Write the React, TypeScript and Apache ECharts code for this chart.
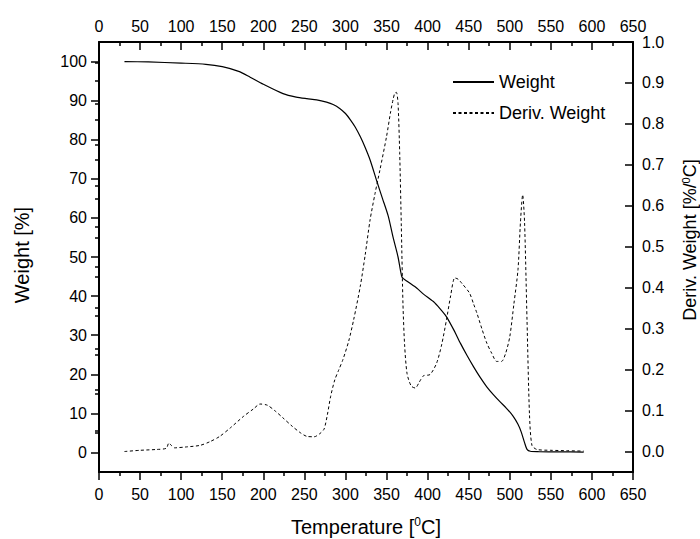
import React, { useEffect, useRef } from "react";
import * as echarts from "echarts";

// Weight curve (TGA)
const weightTemp = [31, 60, 100, 130, 150, 170, 184, 200, 224, 240, 253, 265, 277, 285, 293, 300, 306, 312, 318, 324, 330, 338, 345, 352, 358, 364, 367, 369, 375, 387, 395, 407, 415, 423, 432, 440, 448, 456, 464, 472, 480, 488, 496, 504, 510, 514, 518, 521, 525, 535, 560, 590];
const weightVal = [100, 99.9, 99.6, 99.3, 98.7, 97.5, 96, 94.2, 91.8, 90.9, 90.5, 90.2, 89.6, 89, 88, 86.7, 85.1, 83.2, 80.8, 78, 74.8, 69.5, 65, 60.5, 55, 50, 46.5, 44.8, 43.8, 42, 40.5, 38.6, 36.8, 34.7, 31.3, 27.9, 24.8, 21.9, 19.2, 16.8, 14.8, 13, 11.3, 9.3, 7.2, 5.2, 2.5, 0.8, 0.3, 0.2, 0.15, 0.1];

// Derivative weight curve (DTG)
const derivTemp = [31, 50, 70, 82, 85, 88, 92, 105, 123, 135, 147, 160, 176, 188, 196, 205, 215, 224, 235, 245, 253, 262, 269, 274, 278, 282, 287, 292, 297, 304, 310, 318, 324, 330, 336, 342, 350, 355, 358, 360, 362, 364, 366, 368, 370, 372, 375, 380, 385, 390, 395, 403, 411, 417, 423, 428, 433, 437, 442, 451, 456, 460, 466, 472, 478, 484, 490, 495, 500, 505, 510, 513, 515.7, 518, 521, 524, 527, 533, 550, 570, 590];
const derivVal = [0.0, 0.003, 0.005, 0.008, 0.021, 0.015, 0.009, 0.011, 0.015, 0.024, 0.037, 0.058, 0.086, 0.104, 0.116, 0.113, 0.098, 0.082, 0.062, 0.046, 0.037, 0.036, 0.044, 0.055, 0.09, 0.135, 0.175, 0.2, 0.225, 0.27, 0.322, 0.403, 0.48, 0.566, 0.63, 0.688, 0.769, 0.83, 0.86, 0.875, 0.877, 0.85, 0.73, 0.55, 0.36, 0.26, 0.19, 0.16, 0.155, 0.17, 0.185, 0.188, 0.216, 0.26, 0.322, 0.38, 0.424, 0.421, 0.41, 0.387, 0.36, 0.338, 0.3, 0.265, 0.24, 0.22, 0.22, 0.24, 0.28, 0.36, 0.444, 0.56, 0.627, 0.56, 0.32, 0.09, 0.015, 0.005, 0.003, 0.002, 0.001];

// Tick values
const weightMajorTicks = [0, 10, 20, 30, 40, 50, 60, 70, 80, 90, 100];
const weightMinorTicks = [5, 15, 25, 35, 45, 55, 65, 75, 85, 95];
const derivMajorTicks = [0, 0.1, 0.2, 0.3, 0.4, 0.5, 0.6, 0.7, 0.8, 0.9, 1.0];
const derivMinorTicks = [0.05, 0.15, 0.25, 0.35, 0.45, 0.55, 0.65, 0.75, 0.85, 0.95];

const FONT = 'Arial, "Liberation Sans", sans-serif';
const BLACK = "#000";

export default function App() {
  const ref = useRef<HTMLDivElement>(null);
  useEffect(() => {
    if (!ref.current) return;
    const chart = echarts.init(ref.current, undefined, { renderer: "svg" });
    const weightData = weightTemp.map((t, i) => [t, weightVal[i]]);
    const derivData = derivTemp.map((t, i) => [t, derivVal[i]]);

    const xCommon = {
      type: "value",
      min: 0,
      max: 650,
      interval: 50,
      splitLine: { show: false },
      axisLine: { show: true, onZero: false, lineStyle: { color: BLACK, width: 2 } },
      minorTick: { show: true, splitNumber: 2, length: 4, lineStyle: { color: BLACK, width: 1.5 } },
    };

    const option: any = {
      animation: false,
      backgroundColor: "#fff",
      textStyle: { fontFamily: FONT, color: BLACK },
      grid: { left: 99, right: 67, top: 42, bottom: 67 },
      legend: {
        orient: "vertical",
        left: 447,
        top: 68,
        itemWidth: 41,
        itemHeight: 14,
        itemGap: 13,
        itemStyle: { color: "rgba(0,0,0,0)", borderWidth: 0, opacity: 0 },
        textStyle: { fontSize: 18, color: BLACK, fontFamily: FONT },
        data: ["Weight", "Deriv. Weight"],
      },
      xAxis: [
        {
          ...xCommon,
          position: "bottom",
          axisTick: { show: true, length: 8, lineStyle: { color: BLACK, width: 1.5 } },
          axisLabel: { fontSize: 16, color: BLACK, margin: 14, fontFamily: FONT },
        },
        {
          ...xCommon,
          position: "top",
          axisTick: { show: true, inside: true, length: 8, lineStyle: { color: BLACK, width: 1.5 } },
          axisLabel: { fontSize: 16, color: BLACK, margin: 8, fontFamily: FONT },
        },
      ],
      yAxis: [
        {
          type: "value",
          position: "left",
          min: -5,
          max: 105,
          splitLine: { show: false },
          axisLine: { show: true, onZero: false, lineStyle: { color: BLACK, width: 2 } },
          axisTick: { show: true, length: 8, customValues: weightMajorTicks, lineStyle: { color: BLACK, width: 1.5 } },
          axisLabel: { fontSize: 16, color: BLACK, margin: 12, customValues: weightMajorTicks, fontFamily: FONT },
        },
        {
          type: "value",
          position: "right",
          min: -0.05,
          max: 1.0,
          splitLine: { show: false },
          axisLine: { show: true, onZero: false, lineStyle: { color: BLACK, width: 2 } },
          axisTick: { show: true, inside: true, length: 8, customValues: derivMajorTicks, lineStyle: { color: BLACK, width: 1.5 } },
          axisLabel: {
            fontSize: 16,
            color: BLACK,
            margin: 9,
            customValues: derivMajorTicks,
            formatter: (v: number) => v.toFixed(1),
            fontFamily: FONT,
          },
        },
        {
          type: "value",
          position: "left",
          min: -5,
          max: 105,
          splitLine: { show: false },
          axisLine: { show: false },
          axisTick: { show: true, length: 4, customValues: weightMinorTicks, lineStyle: { color: BLACK, width: 1.5 } },
          axisLabel: { show: false },
        },
        {
          type: "value",
          position: "right",
          min: -0.05,
          max: 1.0,
          splitLine: { show: false },
          axisLine: { show: false },
          axisTick: { show: true, inside: true, length: 4, customValues: derivMinorTicks, lineStyle: { color: BLACK, width: 1.5 } },
          axisLabel: { show: false },
        },
      ],
      series: [
        {
          name: "Weight",
          type: "line",
          xAxisIndex: 0,
          yAxisIndex: 0,
          data: weightData,
          showSymbol: false,
          symbol: "none",
          smooth: 0.25,
          lineStyle: { color: BLACK, width: 1.2, type: "solid" },
          itemStyle: { color: BLACK },
        },
        {
          name: "Deriv. Weight",
          type: "line",
          xAxisIndex: 0,
          yAxisIndex: 1,
          data: derivData,
          showSymbol: false,
          symbol: "none",
          smooth: 0.25,
          lineStyle: { color: BLACK, width: 1, type: [3, 2.5] },
          itemStyle: { color: BLACK },
        },
      ],
      graphic: [
        {
          type: "text",
          x: 366,
          y: 527,
          style: {
            text: "{n|Temperature [}{sup|0}{n|C]}",
            align: "center",
            verticalAlign: "middle",
            fill: BLACK,
            rich: {
              n: { fontSize: 20, fontFamily: FONT, fill: BLACK, lineHeight: 22 },
              sup: { fontSize: 12, fontFamily: FONT, fill: BLACK, verticalAlign: "top", lineHeight: 12 },
            },
          },
        },
        {
          type: "text",
          x: 22,
          y: 255,
          rotation: Math.PI / 2,
          style: {
            text: "Weight [%]",
            align: "center",
            verticalAlign: "middle",
            fill: BLACK,
            fontSize: 20,
            fontFamily: FONT,
          },
        },
        {
          type: "text",
          x: 690,
          y: 240,
          rotation: Math.PI / 2,
          style: {
            text: "{n|Deriv. Weight [%/}{sup|0}{n|C]}",
            align: "center",
            verticalAlign: "middle",
            fill: BLACK,
            rich: {
              n: { fontSize: 18, fontFamily: FONT, fill: BLACK, lineHeight: 20 },
              sup: { fontSize: 11, fontFamily: FONT, fill: BLACK, verticalAlign: "top", lineHeight: 11 },
            },
          },
        },
      ],
    };
    chart.setOption(option);
    return () => chart.dispose();
  }, []);
  return (
    <div
      ref={ref}
      style={{ position: "fixed", left: 0, top: 0, width: 700, height: 539, background: "#fff" }}
    />
  );
}
